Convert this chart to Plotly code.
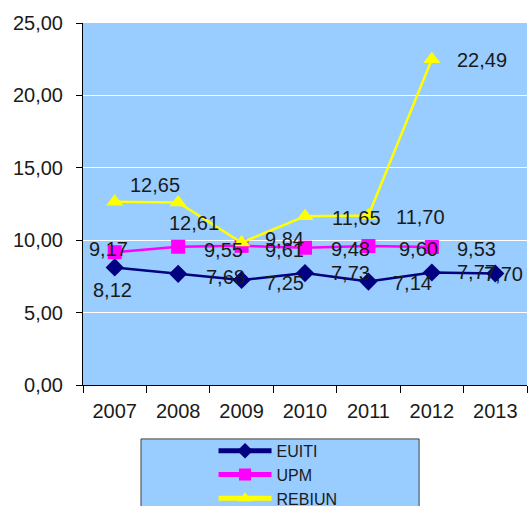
import plotly.graph_objects as go

years = ["2007", "2008", "2009", "2010", "2011", "2012", "2013"]
euiti = [8.12, 7.68, 7.25, 7.73, 7.14, 7.77, 7.70]
upm = [9.17, 9.55, 9.61, 9.48, 9.60, 9.53]
rebiun = [12.65, 12.61, 9.84, 11.65, 11.70, 22.49]

# label pixel offsets (dx right, dy down) relative to each point
euiti_off = [(-2, 23), (47, 3), (43, 3), (45, 0), (44, 1), (45, 0), (8, 0)]
upm_off = [(-6, -3), (45, 3), (43, 4), (45, 1), (50, 3), (45, 2)]
rebiun_off = [(40, -17), (16, 21), (43, -4), (51, 2), (52, 1), (50, 1)]

FONT = "Arial, Liberation Sans, sans-serif"

def fmt(v):
    return f"{v:.2f}".replace(".", ",")

fig = go.Figure()
fig.add_trace(go.Scatter(x=years[:len(euiti)], y=euiti, name="EUITI", mode="lines+markers",
                         line=dict(color="#000080", width=2.5),
                         marker=dict(symbol="diamond", size=14, color="#000080")))
fig.add_trace(go.Scatter(x=years[:len(upm)], y=upm, name="UPM", mode="lines+markers",
                         line=dict(color="#FF00FF", width=2.5),
                         marker=dict(symbol="square", size=14, color="#FF00FF")))
fig.add_trace(go.Scatter(x=years[:len(rebiun)], y=rebiun, name="REBIUN", mode="lines+markers",
                         line=dict(color="#FFFF00", width=2.5),
                         marker=dict(symbol="triangle-up", size=15, color="#FFFF00")))

annotations = []
for vals, offs in ((euiti, euiti_off), (upm, upm_off), (rebiun, rebiun_off)):
    for i, v in enumerate(vals):
        dx, dy = offs[i]
        annotations.append(dict(x=i, y=v, xref="x", yref="y", text=fmt(v), showarrow=False,
                                xshift=dx, yshift=-dy,
                                font=dict(family=FONT, size=20, color="#1a1a1a")))

fig.update_layout(
    width=528, height=506,
    margin=dict(l=83, r=1, t=23, b=121, autoexpand=False),
    paper_bgcolor="white",
    plot_bgcolor="#99CCFF",
    separators=",.",
    font=dict(family=FONT, size=20, color="#1a1a1a"),
    annotations=annotations,
    showlegend=True,
    legend=dict(x=0.294, y=-0.135, xanchor="left", yanchor="top",
                bgcolor="rgba(0,0,0,0)", borderwidth=0,
                font=dict(family=FONT, size=16, color="#1a1a1a"),
                itemwidth=53, tracegroupgap=0, itemsizing="constant"),
    shapes=[dict(type="rect", xref="paper", yref="paper",
                 x0=0.1306, x1=0.757, y0=-0.149, y1=-0.40,
                 fillcolor="#99CCFF", line=dict(color="#404040", width=1),
                 layer="above")],
)
fig.update_xaxes(type="category", categoryorder="array", categoryarray=years,
                 range=[-0.5, 6.5], tickson="boundaries", ticks="outside",
                 ticklen=7, tickcolor="black", showline=True, linecolor="black",
                 linewidth=1, showgrid=False, tickfont=dict(size=20),
                 automargin=False, ticklabelstandoff=8)
fig.update_yaxes(range=[0, 25], dtick=5, tickformat=".2f", ticks="outside",
                 ticklen=6, tickcolor="black", showline=True, linecolor="black",
                 linewidth=1, showgrid=True, gridcolor="white", gridwidth=1,
                 zeroline=False, tickfont=dict(size=20),
                 automargin=False, ticklabelstandoff=9)

fig.write_html("out.html", config={"displayModeBar": False},
               post_script="document.body.style.margin='0';document.body.style.overflow='hidden';")
